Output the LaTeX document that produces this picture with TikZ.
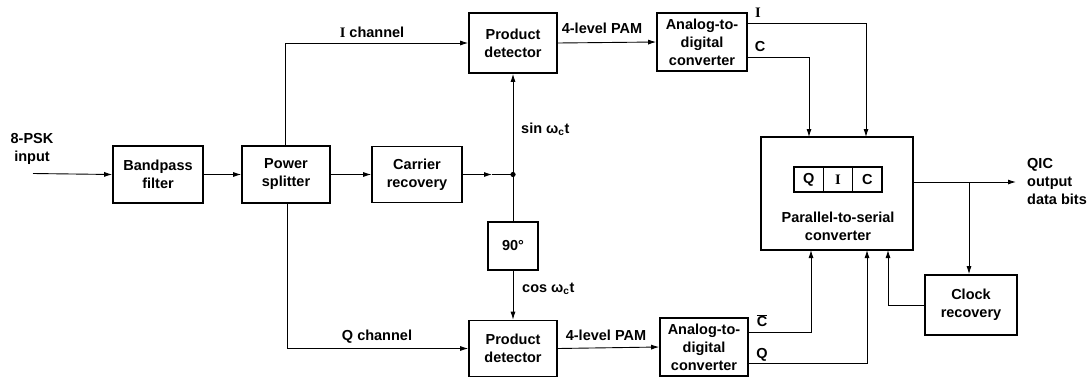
\documentclass[tikz,border=0pt]{standalone}
\usepackage{fontspec}
\setmainfont{Liberation Sans}
\newfontfamily\serifletter{Liberation Serif}
\usetikzlibrary{arrows.meta}
\newcommand{\sI}{{\serifletter\bfseries I}}
\begin{document}
\begin{tikzpicture}[x=1pt,y=-1pt,
  every node/.append style={font=\fontsize{14.5}{18}\selectfont\bfseries},
  blk/.style={draw,line width=1.6pt,align=center,inner sep=0pt},
  cell/.style={draw,line width=1.3pt,minimum width=29.3pt,minimum height=25pt,inner sep=0pt},
  wire/.style={line width=0.9pt},
  arr/.style={wire,-{Latex[length=8pt,width=5pt]}},
  lbl/.style={inner sep=0pt,align=center}]
\useasboundingbox (0,0) rectangle (1089,378);

% processing blocks
\node[blk,minimum width=90pt,minimum height=57pt] (bpf) at (158,174.5) {Bandpass\\filter};
\node[blk,minimum width=88pt,minimum height=57pt] (ps) at (286,174.5) {Power\\splitter};
\node[blk,minimum width=90pt,minimum height=56pt] (cr) at (417,174.5) {Carrier\\recovery};
\node[blk,minimum width=88pt,minimum height=60pt] (pdt) at (513,43) {Product\\detector};
\node[blk,minimum width=50pt,minimum height=48pt] (sh) at (513,246) {90°};
\node[blk,minimum width=88pt,minimum height=56pt] (pdb) at (513,348.5) {Product\\detector};
\node[blk,minimum width=90pt,minimum height=58pt] (adct) at (702,42) {Analog-to-\\digital\\converter};
\node[blk,minimum width=88pt,minimum height=58pt] (adcb) at (704,347) {Analog-to-\\digital\\converter};
\node[blk,minimum width=152pt,minimum height=113pt] (psc) at (837,193.5) {};
\node[lbl] (pstext) at (838,226) {Parallel-to-serial\\converter};
\node[cell] (cq) at (808.7,179.5) {Q};
\node[cell] (ci) at (838,179.5) {\sI};
\node[cell] (cc) at (867.3,179.5) {C};
\node[blk,minimum width=92pt,minimum height=60pt] (clk) at (971,305) {Clock\\recovery};

% input and carrier path
\coordinate (in) at (33,173.5);
\draw[arr] (in) -- (bpf.west);
\draw[arr] (bpf) -- (ps);
\draw[arr] (ps) -- (cr);
\coordinate (jn) at (513,174.5);
\coordinate (crtip) at (492,174.5);
\draw[arr] (cr.east) -- (crtip);
\draw[wire] (crtip) -- (jn);
\fill (jn) circle (2.6pt);
\draw[arr] (jn) -- (pdt.south);
\draw[wire] (jn) -- (sh.north);
\draw[arr] (sh.south) -- (pdb.north);

% I and Q channels
\draw[arr] (ps.north -| 285,0) |- (pdt.west);
\draw[arr] (ps.south -| 287,0) |- (pdb.west);
\draw[arr] (pdt.east) -- (adct.west);
\draw[arr] (pdb.east) -- (adcb.west);

% converter outputs into the parallel-to-serial converter
\coordinate (oi) at (747,23);
\coordinate (oc) at (747,57);
\coordinate (ocb) at (748,332);
\coordinate (oq) at (748,363);
\draw[arr] (oi) -| (866,137);
\draw[arr] (oc) -| (809,137);
\draw[arr] (ocb) -| (811,250);
\draw[arr] (oq) -| (867,250);

% serial output and clock loop
\coordinate (po) at (913,182);
\coordinate (out) at (1016,182);
\coordinate (br) at (969,182);
\draw[arr] (po) -- (out);
\draw[arr] (br) -- (br |- clk.north);
\draw[arr] (clk.west) -| (888,250);

% labels
\node[lbl] at (32,149) {8-PSK\\input};
\node[lbl] at (372,32) {\sI\ channel};
\node[lbl] at (377,337) {Q channel};
\node[lbl] at (602,28) {4-level PAM};
\node[lbl] at (606,335) {4-level PAM};
\node[lbl,anchor=west] at (521,129) {sin ω\textsubscript{c}t};
\node[lbl,anchor=west] at (522,289) {cos ω\textsubscript{c}t};
\node[lbl] at (758,13) {\sI};
\node[lbl] at (760,47) {C};
\node[lbl] at (762,321) {$\overline{\hbox{C}}$};
\node[lbl] at (762,355) {Q};
\node[lbl,align=left,anchor=west] at (1027,182) {QIC\\output\\data bits};
\end{tikzpicture}
\end{document}
